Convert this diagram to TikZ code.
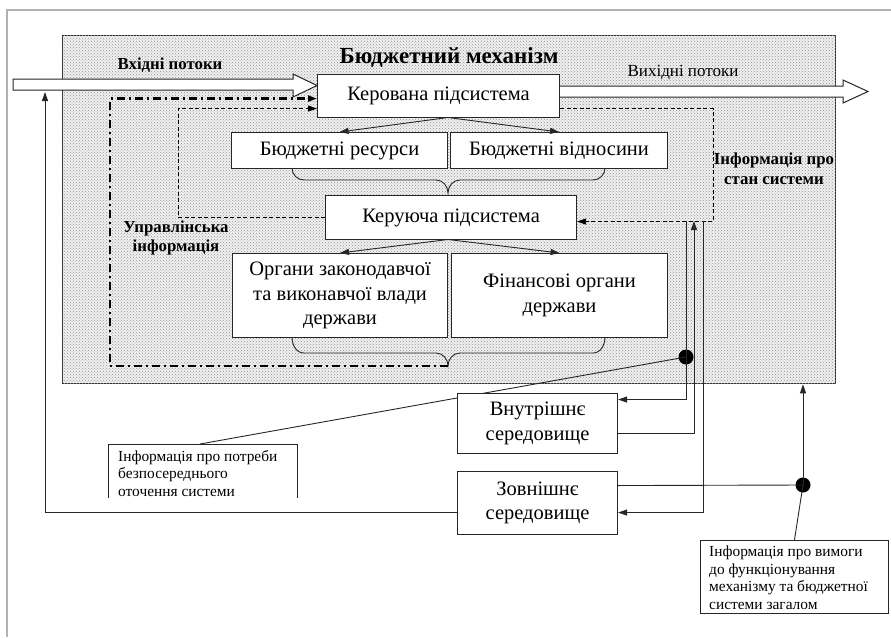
\documentclass[tikz,border=0pt]{standalone}
\usepackage{fontspec}
\setmainfont{Liberation Serif}
\usetikzlibrary{arrows.meta,patterns,calc}
\begin{document}
\begin{tikzpicture}[x=1pt,y=-1pt,
 box/.style={draw=black!85, line width=1.1pt, fill=white, inner sep=0pt, align=center,
   font=\fontsize{20.5}{24.5}\selectfont, anchor=north west},
 tip/.style={-{Triangle[length=9pt,width=6pt]}},
 thinline/.style={line width=0.9pt, draw=black!85},
 dashdot/.style={line width=2.2pt, dash pattern=on 8pt off 4pt on 2pt off 4pt},
 dashthin/.style={line width=0.8pt, dash pattern=on 4pt off 2.5pt},
 lab/.style={font=\bfseries\fontsize{16.8}{19.5}\selectfont, align=center, inner sep=0pt},
 note/.style={font=\fontsize{15.4}{17.5}\selectfont, align=left, inner sep=0pt, anchor=north west},
 dotnode/.style={circle, fill=black, minimum size=15pt, inner sep=0pt},
 hollow/.style={draw=black!85, line width=1pt, fill=white},
 frame/.style={draw=gray!60, line width=2pt}]
\useasboundingbox (0,0) rectangle (891,637);
\draw[frame] (7,637) -- (7,10) -- (891,10);

% shaded mechanism area
\node[draw=black!80, line width=1.3pt, minimum width=773pt, minimum height=348pt, anchor=north west,
  inner sep=0pt, fill=gray!12, postaction={pattern=crosshatch dots, pattern color=gray!85}] (mech) at (62,35) {};
\node[font=\bfseries\fontsize{23}{26}\selectfont, inner sep=0pt] (title) at (449,58) {Бюджетний механізм};

% flows
\draw[hollow] (13,79) -- (293,79) -- (293,74) -- (317,85.5) -- (293,97) -- (293,90) -- (13,90) -- cycle;
\draw[hollow] (559,86) -- (843,86) -- (843,80) -- (868,91.5) -- (843,103) -- (843,97) -- (559,97) -- cycle;
\node[lab] (inlab) at (170,65) {Вхідні потоки};
\node[font=\fontsize{17}{20}\selectfont, inner sep=0pt] (outlab) at (683,73) {Вихідні потоки};
\node[lab] (statelab) at (774,169) {Інформація про\\стан системи};
\node[lab] (uprlab) at (176,238) {Управлінська\\інформація};

% callouts
\node[draw=black!85, line width=0.9pt, fill=white, minimum width=188pt, minimum height=73pt,
  anchor=north west, inner sep=0pt] (c2box) at (700,540) {};
\node[note] (c2) at (709,546) {Інформація про вимоги\\до функціонування\\механізму та бюджетної\\системи загалом};
\coordinate (c1tl) at (108,444);
\coordinate (c1tr) at (297,444);
\draw[thinline] (108,498) -- (c1tl) -- (c1tr) -- (297,498);
\node[note] (c1) at (118,450) {Інформація про потреби\\безпосереднього\\оточення системи};
\coordinate (c1pt) at (200,444);

\node[dotnode] (d1) at (686,357) {};
\node[dotnode] (d2) at (803,485) {};
\draw[thinline] (d1.center) -- (c1pt);

% boxes
\node[box, minimum width=242pt, minimum height=43pt] (ker) at (317,74) {Керована підсистема};
\node[box, minimum width=216pt, minimum height=36pt] (res) at (231,132) {Бюджетні ресурси};
\node[box, minimum width=217pt, minimum height=36pt] (rel) at (450,132) {Бюджетні відносини};
\node[box, minimum width=251pt, minimum height=44pt] (upr) at (325,195) {Керуюча підсистема};
\node[box, minimum width=215pt, minimum height=84pt] (org) at (232,253) {Органи законодавчої\\та виконавчої влади\\держави};
\node[box, minimum width=216pt, minimum height=84pt] (fin) at (451,253) {Фінансові органи\\держави};
\node[box, minimum width=160pt, minimum height=60pt] (vn) at (457,393) {Внутрішнє\\середовище};
\node[box, minimum width=160pt, minimum height=63pt] (zv) at (457,471) {Зовнішнє\\середовище};

% branching arrows
\coordinate (ka) at (448,117.5);
\coordinate (ua) at (448,239.5);
\draw[thinline, tip] (ka) -- (res.north);
\draw[thinline, tip] (ka) -- (rel.north);
\draw[thinline, tip] (ua) -- (org.north);
\draw[thinline, tip] (ua) -- (fin.north);

% braces
\draw[thinline] (292,168) to[out=-90,in=180] (304,180) -- (436,180) to[out=0,in=90] (448,193)
  to[out=90,in=180] (460,180) -- (593,180) to[out=0,in=-90] (605,168);
\coordinate (bt2) at (448,366);
\draw[thinline] (292,337) to[out=-90,in=180] (304,353) -- (436,353) to[out=0,in=90] (bt2)
  to[out=90,in=180] (460,353) -- (593,353) to[out=0,in=-90] (605,337);

% feedback loops
\coordinate (ml) at (110,200);
\draw[dashdot, tip] (bt2) -| (ml) |- ([yshift=-2.5pt]ker.west);
\coordinate (dl) at (178,150);
\draw[dashthin, tip] (upr.west) -| (dl) |- ([yshift=-12.5pt]ker.west);
\coordinate (dr) at (713,160);
\draw[dashthin, tip] ([yshift=-12.5pt]ker.east) -| (dr) |- ([yshift=-4pt]upr.east);

% environment links
\coordinate (ta) at (686,221);
\coordinate (tb) at (694,221);
\coordinate (tc) at (703,221);
\draw[thinline] (ta) -- (d1.center);
\draw[thinline, tip] (d1.center) |- ([yshift=24pt]vn.east);
\draw[thinline, tip] ([yshift=-10pt]vn.east) -| (tb);
\draw[thinline, tip] (tc) |- ([yshift=-9.5pt]zv.east);
\draw[thinline] ([yshift=17.5pt]zv.east) -- (d2.center);
\draw[thinline, tip] (d2.center) -- (d2.center |- mech.south);
\draw[thinline] (d2.center) -- (c2box.north);
\coordinate (inb) at (45,92);
\draw[thinline, tip] ([yshift=-9.5pt]zv.west) -| (inb);
\end{tikzpicture}
\end{document}
